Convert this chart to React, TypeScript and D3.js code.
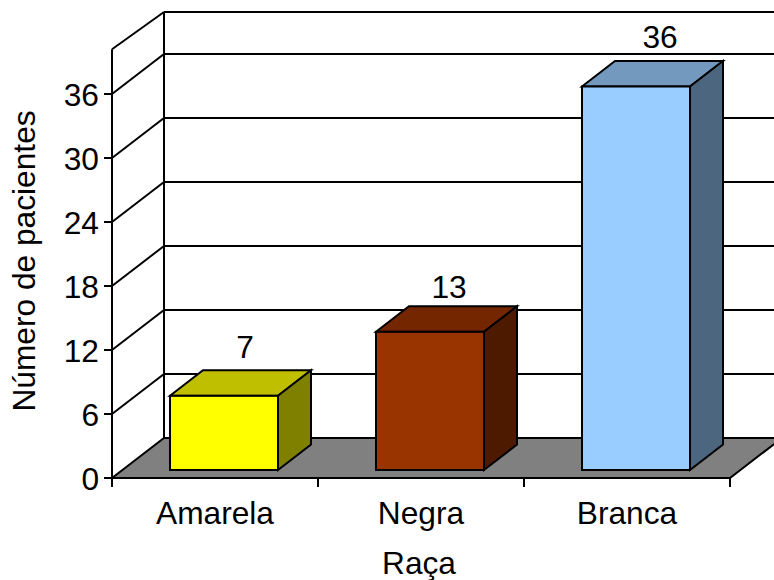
import React from "react";
import * as d3 from "d3";

const categories = ["Amarela", "Negra", "Branca"];
const patients = [7, 13, 36];
const yTicks = [0, 6, 12, 18, 24, 30, 36];
const faceColors = ["#FFFF00", "#993300", "#99CCFF"];
const topColors = ["#BFBF00", "#732600", "#7399BF"];
const sideColors = ["#808000", "#4D1A00", "#4D6680"];

const W = 774;
const H = 580;
const FONT = "'Liberation Sans', Arial, sans-serif";

// Oblique projection of the 3D chart box
const depthX = 52;
const depthY = 40;
const barDepthX = 33;
const barDepthY = 25.5;
const barInsetY = 7.5;
const barWidth = 108;
const labelSize = 31.7;

// Per-bar placement of the value labels above each bar top
const labelDx = [75, 73, 78];
const labelDy = [38, 33.5, 38.5];

const y = d3.scaleLinear().domain([0, 36]).range([478, 94]);
const x = d3.scaleBand().domain(categories).range([112, 730]);

const poly = (pts: number[][]) => pts.map((p) => p.join(",")).join(" ");

export default function App() {
  const y0 = y(0);
  const left = x.range()[0];
  const right = x.range()[1];
  const topFront = y(40.2);
  const topBack = 12;
  const stroke = { stroke: "#000", strokeWidth: 2, strokeLinejoin: "miter" as const };
  return (
    <svg
      width={W}
      height={H}
      viewBox={`0 0 ${W} ${H}`}
      style={{ position: "absolute", left: 0, top: 0, background: "#fff" }}
      fontFamily={FONT}
      fill="#000"
    >
      {/* floor */}
      <polygon
        points={poly([
          [left, y0],
          [left + depthX, y0 - depthY],
          [right + depthX, y0 - depthY],
          [right, y0],
        ])}
        fill="#808080"
        {...stroke}
      />
      {/* back wall gridlines and side wall slants */}
      {yTicks.slice(1).map((t) => (
        <g key={t}>
          <line x1={left} x2={left + depthX} y1={y(t)} y2={y(t) - depthY} {...stroke} />
          <line x1={left + depthX} x2={right + depthX} y1={y(t) - depthY} y2={y(t) - depthY} {...stroke} />
        </g>
      ))}
      <line x1={left} x2={left + depthX} y1={topFront} y2={topBack} {...stroke} />
      <line x1={left + depthX} x2={right + depthX} y1={topBack} y2={topBack} {...stroke} />
      <line x1={left + depthX} x2={left + depthX} y1={topBack} y2={y0 - depthY} {...stroke} />
      {/* value axis */}
      <line x1={left} x2={left} y1={topFront} y2={y0} {...stroke} />
      {yTicks.map((t) => (
        <g key={t}>
          <line x1={left - 8} x2={left} y1={y(t)} y2={y(t)} {...stroke} />
          <text x={left - 13} y={y(t) + 11.5} textAnchor="end" fontSize={labelSize}>
            {t}
          </text>
        </g>
      ))}
      {/* category axis */}
      <line x1={left} x2={right} y1={y0} y2={y0} {...stroke} />
      {[...categories.map((c) => x(c)!), right].map((px) => (
        <line key={px} x1={px} x2={px} y1={y0} y2={y0 + 9} {...stroke} />
      ))}
      {categories.map((c) => (
        <text key={c} x={x(c)! + x.bandwidth() / 2} y={524} textAnchor="middle" fontSize={labelSize}>
          {c}
        </text>
      ))}
      {/* bars */}
      {categories.map((c, i) => {
        const v = patients[i];
        const bx = x(c)! + (x.bandwidth() - barWidth) / 2 + 9;
        const bb = y(0) - 8;
        const bt = y(v) - barInsetY;
        const br = bx + barWidth;
        return (
          <g key={c}>
            <polygon
              points={poly([
                [bx, bt],
                [bx + barDepthX, bt - barDepthY],
                [br + barDepthX, bt - barDepthY],
                [br, bt],
              ])}
              fill={topColors[i]}
              {...stroke}
            />
            <polygon
              points={poly([
                [br, bt],
                [br + barDepthX, bt - barDepthY],
                [br + barDepthX, bb - barDepthY],
                [br, bb],
              ])}
              fill={sideColors[i]}
              {...stroke}
            />
            <rect x={bx} y={bt} width={barWidth} height={bb - bt} fill={faceColors[i]} {...stroke} />
            <text x={bx + labelDx[i]} y={bt - labelDy[i]} textAnchor="middle" fontSize={labelSize}>
              {v}
            </text>
          </g>
        );
      })}
      <text x={419} y={574} textAnchor="middle" fontSize={labelSize}>
        Raça
      </text>
      <text transform="translate(35,261) rotate(-90)" textAnchor="middle" fontSize={labelSize}>
        Número de pacientes
      </text>
    </svg>
  );
}
